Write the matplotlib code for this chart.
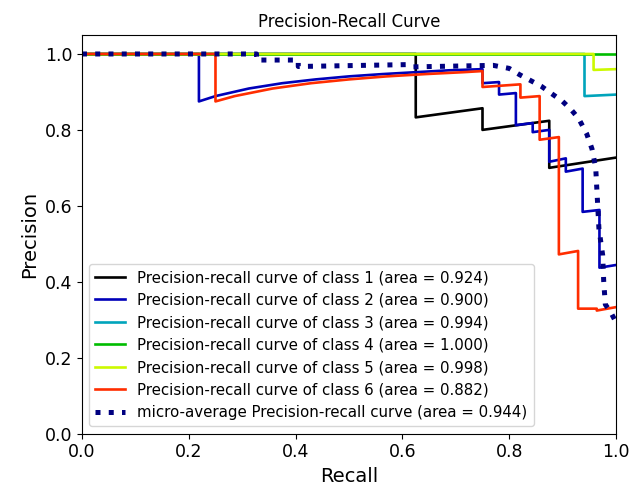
import matplotlib
matplotlib.use("Agg")
import matplotlib.pyplot as plt

# values (recall, precision)
class_names = ["1", "2", "3", "4", "5", "6"]
class_areas = [0.924, 0.900, 0.994, 1.000, 0.998, 0.882]

recall_1 = [0.0, 0.625, 0.625, 0.75, 0.75, 0.875, 0.875, 1.0]
precision_1 = [1.0, 1.0, 0.833, 0.857, 0.80, 0.824, 0.70, 0.727]

recall_2 = [0.0, 0.219, 0.219, 0.25, 0.3125, 0.375, 0.4375, 0.5, 0.5625, 0.625,
            0.6875, 0.75, 0.75, 0.781, 0.781, 0.8125, 0.8125, 0.844, 0.844,
            0.875, 0.875, 0.906, 0.906, 0.9375, 0.9375, 0.969, 0.969, 1.0]
precision_2 = [1.0, 1.0, 0.875, 0.889, 0.909, 0.923, 0.933, 0.941, 0.947, 0.952,
               0.957, 0.96, 0.923, 0.926, 0.893, 0.897, 0.8125, 0.818, 0.794,
               0.80, 0.716, 0.725, 0.69, 0.698, 0.584, 0.589, 0.437, 0.444]

recall_3 = [0.0, 0.941, 0.941, 1.0]
precision_3 = [1.0, 1.0, 0.889, 0.893]

recall_4 = [0.0, 1.0]
precision_4 = [1.0, 1.0]

recall_5 = [0.0, 0.958, 0.958, 1.0]
precision_5 = [1.0, 1.0, 0.958, 0.96]

recall_6 = [0.0, 0.25, 0.25, 0.286, 0.357, 0.429, 0.5, 0.571, 0.643, 0.714,
            0.75, 0.75, 0.821, 0.821, 0.857, 0.857, 0.893, 0.893, 0.929, 0.929,
            0.964, 0.964, 1.0]
precision_6 = [1.0, 1.0, 0.875, 0.889, 0.909, 0.923, 0.933, 0.941, 0.947, 0.952,
               0.955, 0.913, 0.92, 0.885, 0.889, 0.774, 0.781, 0.472, 0.481, 0.329,
               0.329, 0.324, 0.333]

micro_area = 0.944
recall_micro = [0.0, 0.327, 0.327, 0.405, 0.405, 0.61, 0.62, 0.77, 0.80, 0.82,
                0.84, 0.86, 0.88, 0.90, 0.915, 0.93, 0.945, 0.955, 0.962, 0.965,
                0.968, 0.975, 0.977, 0.98, 0.99, 1.0]
precision_micro = [1.0, 1.0, 0.984, 0.984, 0.967, 0.972, 0.966, 0.970, 0.962, 0.945,
                   0.93, 0.915, 0.895, 0.875, 0.855, 0.83, 0.79, 0.75, 0.70, 0.62,
                   0.54, 0.47, 0.40, 0.34, 0.32, 0.293]

recalls = [recall_1, recall_2, recall_3, recall_4, recall_5, recall_6]
precisions = [precision_1, precision_2, precision_3, precision_4, precision_5, precision_6]


def plot_precision_recall():
    fig = plt.figure(figsize=(6.32, 4.95), dpi=100)
    ax = fig.add_axes([0.1297, 0.1242, 0.845, 0.8051])

    cmap = plt.cm.nipy_spectral
    for i, name in enumerate(class_names):
        ax.plot(recalls[i], precisions[i], lw=1.9, color=cmap(i / len(class_names)),
                label=f"Precision-recall curve of class {name} (area = {class_areas[i]:.3f})")

    ax.plot(recall_micro, precision_micro, color="navy", linestyle=":", linewidth=3.6,
            label=f"micro-average Precision-recall curve (area = {micro_area:.3f})")

    ax.set_xlim([0.0, 1.0])
    ax.set_ylim([0.0, 1.05])
    ax.set_title("Precision-Recall Curve", fontsize=11.9)
    ax.set_xlabel("Recall", fontsize=14)
    ax.set_ylabel("Precision", fontsize=14)
    ax.tick_params(labelsize=12.5)
    ax.legend(loc="lower left", fontsize=10.8)

    fig.savefig("out.png", dpi=100)


if __name__ == "__main__":
    plot_precision_recall()
